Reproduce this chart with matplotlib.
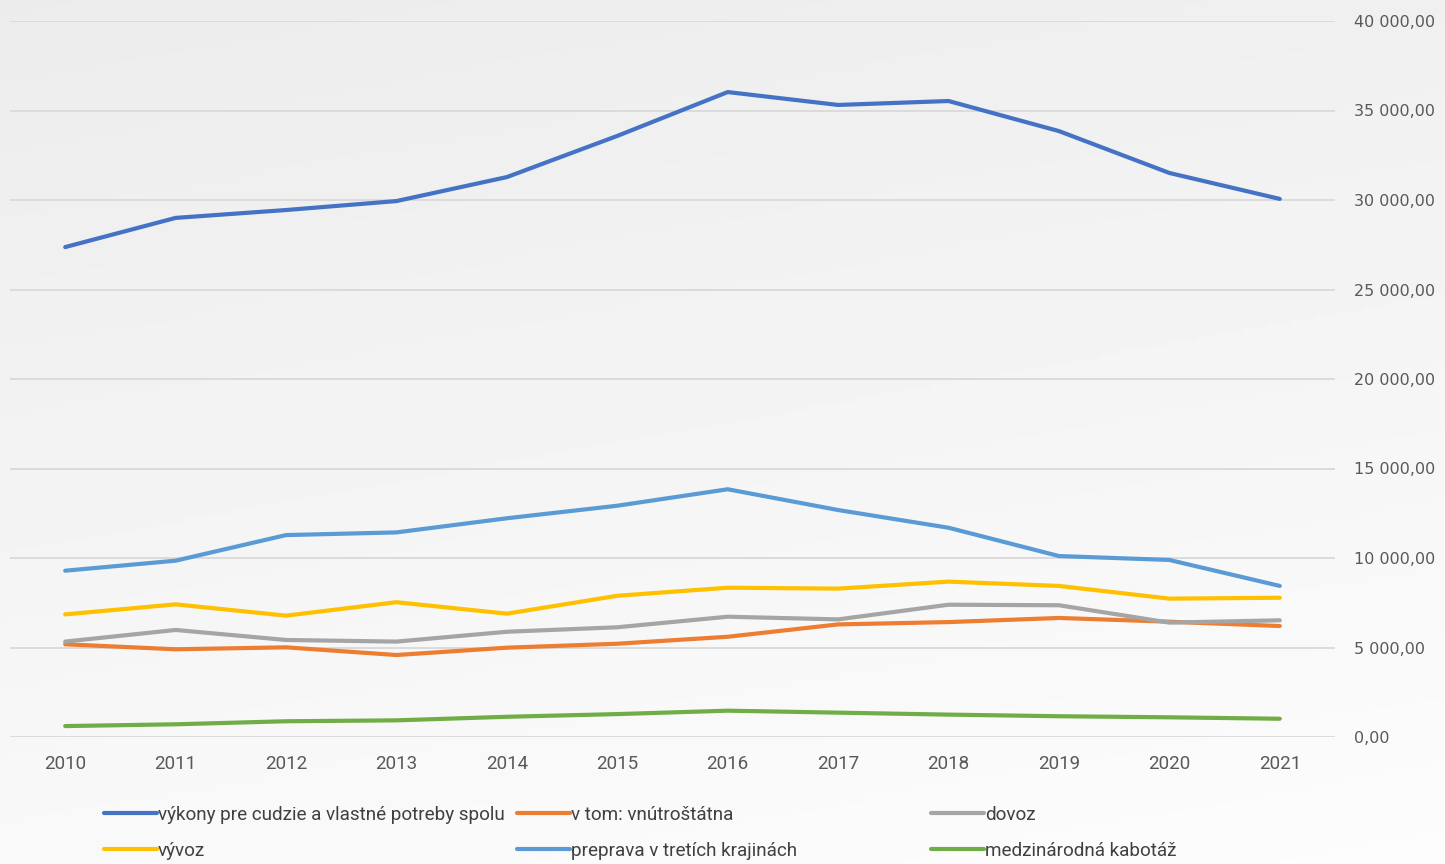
import numpy as np
import matplotlib.pyplot as plt
from matplotlib.ticker import FuncFormatter

years = ['2010', '2011', '2012', '2013', '2014', '2015', '2016', '2017', '2018', '2019', '2020', '2021']

spolu = [27370, 29000, 29440, 29940, 31280, 33580, 36030, 35310, 35530, 33850, 31510, 30060]
vnutrostatna = [5180, 4900, 5010, 4580, 4990, 5210, 5600, 6290, 6420, 6650, 6440, 6200]
dovoz = [5330, 5980, 5420, 5330, 5880, 6130, 6720, 6570, 7390, 7360, 6390, 6520]
vyvoz = [6850, 7410, 6780, 7530, 6890, 7890, 8340, 8290, 8680, 8440, 7730, 7780]
tretie = [9290, 9850, 11280, 11430, 12220, 12920, 13840, 12680, 11690, 10110, 9890, 8440]
kabotaz = [610, 710, 880, 930, 1130, 1280, 1470, 1360, 1250, 1160, 1100, 1020]

series = [
    ('výkony pre cudzie a vlastné potreby spolu', spolu, '#4472c4'),
    ('v tom: vnútroštátna', vnutrostatna, '#ed7d31'),
    ('dovoz', dovoz, '#a5a5a5'),
    ('vývoz', vyvoz, '#ffc000'),
    ('preprava v tretích krajinách', tretie, '#5b9bd5'),
    ('medzinárodná kabotáž', kabotaz, '#70ad47'),
]

narrow = ['Roboto', 'DejaVu Sans']

fig = plt.figure(figsize=(14.45, 8.64), dpi=100)

# soft grey background in place of the photo
bg = fig.add_axes([0, 0, 1, 1], zorder=0)
yy, xx = np.mgrid[0:1:200j, 0:1:300j]
shade = 0.925 + 0.05 * yy + 0.015 * xx
bg.imshow(shade, cmap='gray', vmin=0, vmax=1, aspect='auto', extent=[0, 1, 0, 1])
bg.axis('off')

ax = fig.add_axes([10 / 1445, 1 - 737 / 864, 1325 / 1445, 716 / 864], zorder=1)
ax.set_facecolor('none')

x = np.arange(len(years))
handles = []
for name, vals, col in series:
    h, = ax.plot(x, vals, color=col, lw=3, solid_capstyle='round', solid_joinstyle='round', label=name)
    handles.append(h)

ax.set_xlim(-0.5, len(years) - 0.5)
ax.set_ylim(0, 40000)
ax.set_yticks(np.arange(0, 40001, 5000))
ax.yaxis.set_major_formatter(FuncFormatter(lambda v, p: f'{v:,.2f}'.replace(',', ' ').replace('.', ',')))
ax.yaxis.tick_right()
ax.set_xticks(x)
ax.set_xticklabels(years, family=narrow, fontsize=13.5)
ax.tick_params(axis='x', length=0, pad=13, colors='#595959')
ax.tick_params(axis='y', length=0, pad=14, colors='#595959', labelsize=11.5)
ax.grid(axis='y', color='#d9d9d9', lw=1.3)
ax.set_axisbelow(True)
for s in ax.spines.values():
    s.set_visible(False)

# three legend columns placed at the reference positions
colx = [105, 518, 932]
for i, cx in enumerate(colx):
    leg = fig.legend([handles[i], handles[i + 3]], [series[i][0], series[i + 3][0]],
                     loc='upper left', bbox_to_anchor=(cx / 1445 - 0.006, 1 - 798 / 864),
                     frameon=False, handlelength=2.8, handletextpad=0.05, labelspacing=0.98,
                     borderaxespad=0, prop={'family': narrow, 'size': 13.6})
    for t in leg.get_texts():
        t.set_color('#404040')

fig.savefig('out.png', dpi=100)
